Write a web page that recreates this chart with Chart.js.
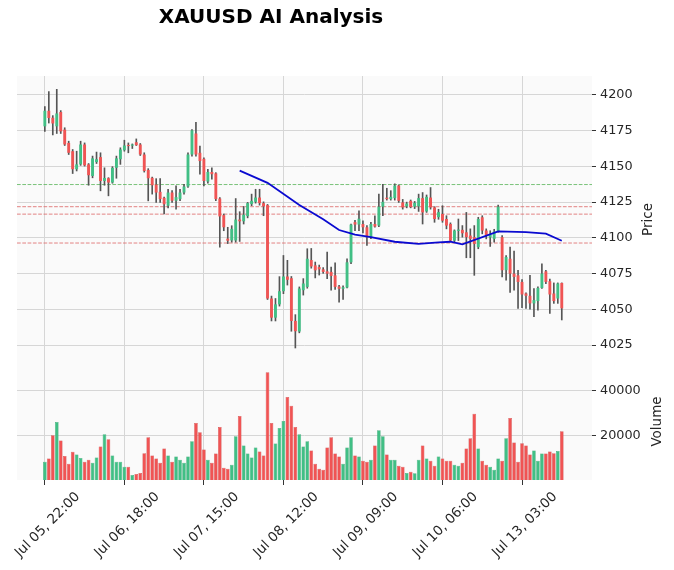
<!DOCTYPE html>
<html>
<head>
<meta charset="utf-8">
<script src="https://cdn.jsdelivr.net/npm/chart.js@4"></script>
<style>
    html, body { margin: 0; padding: 0; background: #ffffff; }
    canvas { display: block; }
</style>
</head>
<body>
<canvas id="graficoXau" width="674" height="570"></canvas>
<script>
// x tick labels, one every 20 candles
const tickLabels = ["Jul 05, 22:00", "Jul 06, 18:00", "Jul 07, 15:00", "Jul 08, 12:00", "Jul 09, 09:00", "Jul 10, 06:00", "Jul 13, 03:00"];

const opens = [
    4178, 4188.9, 4184, 4178, 4188, 4175.7, 4166.4, 4160.6, 4148, 4151.4,
    4165.3, 4151.4, 4143.3, 4153, 4156.5, 4139.8, 4141.7, 4138.7, 4149, 4155,
    4161.3, 4165, 4164.5, 4166.9, 4165.3, 4158.3, 4147.5, 4142, 4137.3, 4132.2,
    4128, 4122.5, 4131.7, 4126, 4127.1, 4131.7, 4135.9, 4158.3, 4173, 4159.5,
    4155.3, 4139.4, 4146.1, 4145.1, 4127.5, 4115.9, 4099.5, 4098.2, 4098.2, 4112.8,
    4111.6, 4115.2, 4123.6, 4125.2, 4128.2, 4124.3, 4122.9, 4057.6, 4044.2, 4053.5,
    4062.7, 4073, 4071.8, 4041.9, 4034.5, 4063.4, 4065.7, 4084.5, 4080.8, 4079.6,
    4078, 4076.6, 4076.2, 4073.8, 4066, 4064.4, 4065.3, 4082.9, 4111, 4109.3,
    4109.7, 4107.4, 4100.5, 4109.7, 4108.6, 4121.8, 4128.1, 4127.1, 4127.8, 4136.6,
    4124.8, 4122, 4125.9, 4121.8, 4122, 4127.8, 4118.5, 4128.2, 4121.3, 4114.5,
    4116.7, 4113.2, 4109.7, 4098.1, 4104.9, 4105.6, 4103.9, 4101.6, 4100.5, 4093.5,
    4114.4, 4105.1, 4100.3, 4099.3, 4104.4, 4100.5, 4077.4, 4085.4, 4075, 4073.8,
    4069.2, 4061.1, 4059.5, 4054.2, 4055.8, 4065, 4076.6, 4069.7, 4061.1, 4057.6,
    4068.5
];
const highs = [
    4191.9, 4202.3, 4185.5, 4203.9, 4189, 4177, 4167.6, 4161.8, 4160.6, 4167.6,
    4166.4, 4152, 4157.2, 4160, 4159.5, 4149, 4142.1, 4149.8, 4157.2, 4163,
    4168.3, 4166.4, 4165.7, 4169.2, 4166, 4159.5, 4148.4, 4142.5, 4141.4, 4141.4,
    4128.5, 4134, 4133, 4136.4, 4134, 4137.5, 4159.5, 4175.7, 4180.8, 4164.2,
    4156, 4147.9, 4149, 4145.6, 4128.2, 4116.7, 4107.4, 4108.5, 4127.5, 4118.3,
    4122, 4124.8, 4130.6, 4134, 4134, 4125.2, 4123.4, 4059.3, 4057.6, 4072.9,
    4087.7, 4084.3, 4073, 4046.3, 4065.7, 4071.5, 4092.4, 4092.6, 4083.1, 4081,
    4079.2, 4090, 4079.5, 4082.6, 4066.9, 4066.4, 4085.4, 4109.7, 4112.3, 4119,
    4112, 4108.6, 4110.9, 4115.5, 4130.6, 4137.5, 4134.7, 4133, 4137.8, 4137,
    4126.9, 4125, 4126.5, 4125.5, 4130.6, 4131.7, 4130, 4135.2, 4121.8, 4120,
    4122.5, 4115.5, 4110.5, 4105.6, 4113.2, 4108.6, 4117.8, 4106.3, 4108.6, 4114.4,
    4115.5, 4106.3, 4105, 4106, 4123, 4101.6, 4087.7, 4093.5, 4090.8, 4077.3,
    4070.8, 4061.5, 4073.8, 4064.6, 4065.7, 4081.9, 4077.3, 4071.1, 4068.5, 4068.5,
    4068.5
];
const lows = [
    4174.5, 4180.3, 4172, 4173, 4173, 4164.6, 4158.3, 4145, 4146.8, 4150.7,
    4150.2, 4136.8, 4142, 4152, 4132.9, 4136.8, 4129.4, 4138.2, 4141.7, 4151.4,
    4160.6, 4159.5, 4162.5, 4164.6, 4157.6, 4146, 4125.9, 4130.6, 4124.8, 4124.8,
    4116.7, 4121, 4124.8, 4120, 4126, 4130.6, 4135.2, 4157.2, 4157.2, 4144.5,
    4136.4, 4138.2, 4141, 4126, 4093.5, 4105, 4096, 4097, 4097, 4097.5,
    4109.7, 4114, 4122.5, 4124.3, 4122.9, 4115.5, 4056.9, 4041.9, 4041.9, 4052.3,
    4061, 4067, 4034.7, 4023, 4033.6, 4060, 4064.8, 4078.8, 4072, 4074,
    4075.2, 4071.5, 4063.5, 4064, 4055, 4057, 4065, 4082, 4105, 4105,
    4103.5, 4094.7, 4099.5, 4107.4, 4107.9, 4115.5, 4126.4, 4126.4, 4126.4, 4124.8,
    4120.1, 4121, 4121, 4120.5, 4118.5, 4109.7, 4117.8, 4120.1, 4110.9, 4113,
    4110.9, 4106.3, 4097.5, 4096.9, 4098.1, 4100.5, 4086.1, 4086.1, 4073.8, 4092.4,
    4102.8, 4099.3, 4094, 4097, 4104, 4072.7, 4070.4, 4061.8, 4063.4, 4050.7,
    4051.2, 4050.7, 4050.2, 4044.9, 4049.5, 4064.6, 4068, 4047.2, 4054.2, 4054.2,
    4042.6
];
const closes = [
    4188.9, 4183.8, 4180, 4187, 4174.5, 4165.3, 4159.5, 4148, 4151.4, 4165.3,
    4150.7, 4143.8, 4155.6, 4155, 4139.8, 4141.9, 4138.7, 4149, 4155.6, 4161.8,
    4164.6, 4164.2, 4165.3, 4164.8, 4158.3, 4146.8, 4141.7, 4136.8, 4131.7, 4127.1,
    4123.5, 4131.7, 4126, 4128.5, 4131.7, 4135.9, 4158.3, 4175.2, 4158.3, 4153.7,
    4139.8, 4146.1, 4144.5, 4127.1, 4115, 4107.4, 4098, 4106.3, 4112.8, 4111.6,
    4116.2, 4124.3, 4125.9, 4128.2, 4124.3, 4122, 4057.6, 4044.2, 4053.5, 4062.7,
    4073, 4070.7, 4041.9, 4034.7, 4064.6, 4068.1, 4085.4, 4080, 4077.3, 4078,
    4076.2, 4075, 4073.4, 4065.7, 4064.4, 4065.5, 4082.9, 4109.3, 4109.3, 4113.4,
    4107.4, 4100.5, 4109.7, 4107.9, 4121.8, 4125.2, 4127.1, 4128.7, 4136.6, 4125.9,
    4121.3, 4124, 4121.5, 4124.5, 4127.8, 4117.8, 4128.7, 4121.3, 4113.2, 4118,
    4112, 4108.6, 4098.1, 4105.1, 4105.8, 4103.2, 4100.5, 4099.3, 4095.8, 4113.2,
    4105.1, 4101.6, 4102, 4104.4, 4121.8, 4077.4, 4086.6, 4075, 4072.7, 4069.2,
    4060.4, 4059.5, 4054.2, 4056.5, 4065, 4075, 4069.2, 4060.4, 4055.8, 4068.1,
    4050.7
];
const volumes = [
    8180, 9550, 20000, 25900, 17700, 10760, 7270, 12580, 11360, 9850,
    8180, 9090, 7730, 10000, 15000, 20450, 18180, 10900, 8180, 8180,
    5900, 5900, 2270, 2730, 3180, 12000, 19090, 10900, 9550, 7730,
    14090, 10900, 8180, 10450, 9090, 7730, 10450, 17270, 25450, 21360,
    13640, 9090, 7730, 11820, 23640, 5450, 5000, 6820, 19550, 28640,
    15450, 11820, 10000, 14550, 12730, 10900, 48180, 25450, 16360, 23180,
    26360, 37120, 33180, 23640, 20450, 15000, 17270, 13180, 7270, 5000,
    4550, 14550, 19090, 11820, 10450, 7270, 14550, 19090, 10900, 10450,
    8640, 8180, 9090, 15450, 22270, 19550, 11360, 9090, 9090, 6360,
    5900, 3180, 3640, 3030, 9090, 15450, 9550, 8640, 6360, 10450,
    9550, 8640, 8640, 6820, 6360, 7730, 14090, 18640, 29550, 14090,
    8640, 6820, 5900, 4550, 9550, 8640, 18640, 27700, 16800, 8200,
    16400, 15450, 11360, 13180, 8640, 11820, 11820, 12730, 12000, 13000,
    21800
];

// moving average, read at its bends
const maIndex = [49, 56, 64, 70, 74, 78, 82, 88, 94, 99, 102, 105, 114, 121, 126, 130];
const maValues = [4147, 4138.5, 4123, 4113, 4105.5, 4102.3, 4100.5, 4097.3, 4095.8, 4096.8, 4097.3, 4095.5, 4104.6, 4104, 4103, 4098];

const levelsGreen = [4137.3];
const levelsRed = [4121.8, 4116.6, 4096.4];

const priceTicks = [4025, 4050, 4075, 4100, 4125, 4150, 4175, 4200];
const volumeTicks = [20000, 40000];

const upColor = "#41bf85";
const downColor = "#f05454";
const wickColor = "#555555";
const xMin = -7;
const xMax = 137.6;

const barColors = closes.map((c, i) => c >= opens[i] ? upColor : downColor);

function levelLine(v, color) {
    return {
        type: "line",
        order: 5,
        data: [{ x: xMin, y: v }, { x: xMax, y: v }],
        borderColor: color,
        borderWidth: 1,
        borderDash: [3.7, 1.6],
        pointRadius: 0,
        yAxisID: "y"
    };
}

function noPadding(scale) {
    scale.paddingLeft = 0;
    scale.paddingRight = 0;
    scale.paddingTop = 0;
    scale.paddingBottom = 0;
}

const extras = {
    id: "extras",
    beforeDraw(chart) {
        const { ctx, chartArea } = chart;
        ctx.save();
        ctx.fillStyle = "#fafafa";
        ctx.fillRect(chartArea.left, chartArea.top, chartArea.right - chartArea.left, chartArea.bottom - chartArea.top);
        ctx.restore();
    },
    afterDraw(chart) {
        const { ctx, chartArea, scales } = chart;
        ctx.save();
        ctx.fillStyle = "#000000";
        ctx.textAlign = "center";
        ctx.textBaseline = "middle";
        ctx.font = "bold 20px 'DejaVu Sans'";
        ctx.fillText("XAUUSD AI Analysis", 271, 18);
        ctx.restore();

        const titles = [["Price", scales.y, 56], ["Volume", scales.yv, 65]];
        titles.forEach(([text, scale, dx]) => {
            ctx.save();
            ctx.font = "13.5px 'DejaVu Sans'";
            ctx.fillStyle = "#262626";
            ctx.textAlign = "center";
            ctx.textBaseline = "middle";
            ctx.translate(chartArea.right + dx, (scale.top + scale.bottom) / 2);
            ctx.rotate(-Math.PI / 2);
            ctx.fillText(text, 0, 0);
            ctx.restore();
        });
    }
};

Chart.defaults.font.family = "'DejaVu Sans'";
Chart.defaults.font.size = 12.8;
Chart.defaults.color = "#262626";

new Chart(document.getElementById("graficoXau"), {
    type: "bar",
    data: {
        datasets: [
            {
                type: "line",
                order: 1,
                data: maIndex.map((x, k) => ({ x: x, y: maValues[k] })),
                borderColor: "#0a0ad0",
                borderWidth: 1.8,
                pointRadius: 0,
                yAxisID: "y"
            },
            {
                order: 2,
                data: opens.map((o, i) => ({ x: i, y: [o, closes[i]] })),
                backgroundColor: barColors,
                grouped: false,
                categoryPercentage: 1,
                barPercentage: 0.72,
                yAxisID: "y"
            },
            {
                order: 3,
                data: lows.map((l, i) => ({ x: i, y: [l, highs[i]] })),
                backgroundColor: wickColor,
                grouped: false,
                barThickness: 1,
                yAxisID: "y"
            },
            levelLine(levelsGreen[0], "rgba(90,180,90,0.8)"),
            levelLine(levelsRed[0], "rgba(220,100,100,0.8)"),
            levelLine(levelsRed[1], "rgba(220,100,100,0.8)"),
            levelLine(levelsRed[2], "rgba(220,100,100,0.8)"),
            {
                order: 4,
                data: volumes.map((v, i) => ({ x: i, y: v })),
                backgroundColor: barColors,
                borderColor: barColors.map(c => c === upColor ? "#2f9e6a" : "#c94040"),
                borderWidth: 0.5,
                grouped: false,
                categoryPercentage: 1,
                barPercentage: 0.92,
                yAxisID: "yv"
            }
        ]
    },
    options: {
        responsive: false,
        devicePixelRatio: 1,
        animation: false,
        layout: {
            padding: { left: 17, top: 76, right: 0, bottom: 0 }
        },
        plugins: {
            legend: { display: false },
            tooltip: { enabled: false }
        },
        scales: {
            x: {
                type: "linear",
                min: xMin,
                max: xMax,
                offset: false,
                afterBuildTicks: (scale) => {
                    scale.ticks = tickLabels.map((t, k) => ({ value: k * 20 }));
                },
                afterFit: (scale) => { scale.height = 90; noPadding(scale); },
                ticks: {
                    autoSkip: false,
                    minRotation: 45,
                    maxRotation: 45,
                    labelOffset: 33,
                    padding: 4,
                    font: { size: 13.5 },
                    callback: (value) => tickLabels[value / 20]
                },
                grid: {
                    offset: false,
                    color: "#d6d6d6",
                    tickColor: "#333333",
                    tickLength: 5
                },
                border: { display: false }
            },
            y: {
                position: "right",
                stack: "panels",
                stackWeight: 287,
                min: 4012.5,
                max: 4213.2,
                afterBuildTicks: (scale) => {
                    scale.ticks = priceTicks.map(v => ({ value: v }));
                },
                afterFit: (scale) => { scale.width = 82; noPadding(scale); },
                ticks: { padding: 4, callback: (v) => String(v) },
                grid: {
                    color: "#d6d6d6",
                    tickColor: "#333333",
                    tickLength: 4
                },
                border: { display: false }
            },
            yv: {
                position: "right",
                stack: "panels",
                stackWeight: 117,
                min: 0,
                max: 52270,
                afterBuildTicks: (scale) => {
                    scale.ticks = volumeTicks.map(v => ({ value: v }));
                },
                afterFit: (scale) => { scale.width = 82; noPadding(scale); },
                ticks: { padding: 4, callback: (v) => String(v) },
                grid: {
                    color: "#d6d6d6",
                    tickColor: "#333333",
                    tickLength: 4
                },
                border: { display: false }
            }
        }
    },
    plugins: [extras]
});
</script>
</body>
</html>
